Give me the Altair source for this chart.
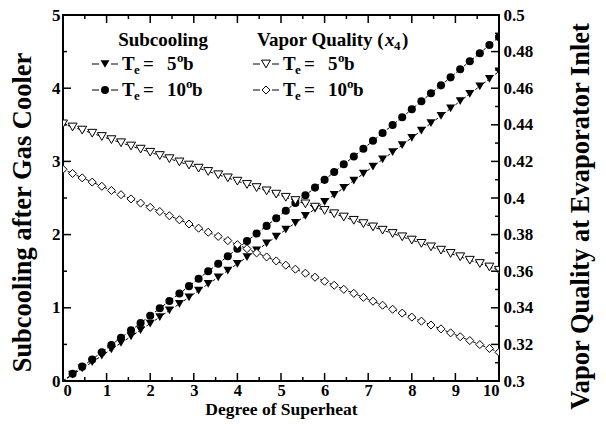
import altair as alt
import pandas as pd

# ---- data ----
superheat = [0.00, 0.22, 0.44, 0.67, 0.89, 1.11, 1.33, 1.56, 1.78, 2.00,
             2.22, 2.44, 2.67, 2.89, 3.11, 3.33, 3.56, 3.78, 4.00, 4.22,
             4.44, 4.67, 4.89, 5.11, 5.33, 5.56, 5.78, 6.00, 6.22, 6.44,
             6.67, 6.89, 7.11, 7.33, 7.56, 7.78, 8.00, 8.22, 8.44, 8.67,
             8.89, 9.11, 9.33, 9.56, 9.78, 10.00]

sub_te5 = [0.000, 0.086, 0.172, 0.258, 0.345, 0.432, 0.520, 0.608, 0.696, 0.785,
           0.874, 0.964, 1.054, 1.144, 1.235, 1.326, 1.417, 1.509, 1.601, 1.693,
           1.786, 1.879, 1.973, 2.067, 2.161, 2.256, 2.351, 2.447, 2.543, 2.639,
           2.736, 2.833, 2.930, 3.028, 3.126, 3.224, 3.323, 3.422, 3.522, 3.622,
           3.723, 3.823, 3.924, 4.026, 4.128, 4.230]

sub_te10 = [0.000, 0.098, 0.196, 0.295, 0.394, 0.493, 0.592, 0.692, 0.792, 0.892,
            0.993, 1.093, 1.195, 1.296, 1.398, 1.500, 1.602, 1.705, 1.808, 1.911,
            2.015, 2.119, 2.223, 2.327, 2.432, 2.537, 2.642, 2.748, 2.854, 2.960,
            3.067, 3.173, 3.281, 3.388, 3.496, 3.604, 3.712, 3.821, 3.930, 4.039,
            4.148, 4.258, 4.368, 4.478, 4.589, 4.700]

vq_te5 = [0.4405, 0.4388, 0.4371, 0.4354, 0.4336, 0.4319, 0.4302, 0.4284, 0.4267, 0.4250,
          0.4232, 0.4215, 0.4197, 0.4180, 0.4163, 0.4145, 0.4127, 0.4110, 0.4092, 0.4074,
          0.4057, 0.4039, 0.4021, 0.4004, 0.3986, 0.3968, 0.3950, 0.3932, 0.3914, 0.3896,
          0.3878, 0.3860, 0.3842, 0.3824, 0.3806, 0.3788, 0.3770, 0.3752, 0.3733, 0.3715,
          0.3697, 0.3679, 0.3660, 0.3642, 0.3623, 0.3605]

vq_te10 = [0.4157, 0.4134, 0.4110, 0.4087, 0.4064, 0.4041, 0.4018, 0.3995, 0.3972, 0.3949,
           0.3926, 0.3903, 0.3881, 0.3858, 0.3835, 0.3813, 0.3790, 0.3767, 0.3745, 0.3723,
           0.3700, 0.3678, 0.3656, 0.3633, 0.3611, 0.3589, 0.3567, 0.3545, 0.3523, 0.3501,
           0.3479, 0.3457, 0.3436, 0.3414, 0.3392, 0.3371, 0.3349, 0.3327, 0.3306, 0.3285,
           0.3263, 0.3242, 0.3221, 0.3199, 0.3178, 0.3157]

x_ticks_major = [0, 1, 2, 3, 4, 5, 6, 7, 8, 9, 10]
x_ticks_minor = [0.5, 1.5, 2.5, 3.5, 4.5, 5.5, 6.5, 7.5, 8.5, 9.5]
left_ticks_major = [0, 1, 2, 3, 4, 5]
left_ticks_minor = [0.5, 1.5, 2.5, 3.5, 4.5]
right_ticks_major = [0.30, 0.32, 0.34, 0.36, 0.38, 0.40, 0.42, 0.44, 0.46, 0.48, 0.50]
right_ticks_minor = [0.31, 0.33, 0.35, 0.37, 0.39, 0.41, 0.43, 0.45, 0.47, 0.49]

W, H = 436, 366
FONT = "Liberation Serif"

sub_df = pd.DataFrame({
    "x": superheat * 2,
    "y": sub_te5 + sub_te10,
    "series": ["s5"] * len(superheat) + ["s10"] * len(superheat),
})
vq_df = pd.DataFrame({
    "x": superheat * 2,
    "y": vq_te5 + vq_te10,
    "series": ["v5"] * len(superheat) + ["v10"] * len(superheat),
})

xscale = alt.Scale(domain=[0, 10], nice=False, zero=False)
lscale = alt.Scale(domain=[0, 5], nice=False, zero=False)
rscale = alt.Scale(domain=[0.3, 0.5], nice=False, zero=False)

lab = dict(labelFont=FONT, labelFontWeight="bold", labelColor="black",
           titleFont=FONT, titleFontWeight="bold", titleColor="black",
           ticks=False, domain=False, grid=False, labelOverlap=False)

x_axis = alt.Axis(values=x_ticks_major, title="Degree of Superheat", titleFontSize=17.5,
                  labelFontSize=16.5, labelPadding=1, titlePadding=2, **lab)
l_axis = alt.Axis(values=left_ticks_major, title="Subcooling after Gas Cooler", titleFontSize=26.5,
                  labelFontSize=17, labelPadding=3, titlePadding=15, titleY=197, **lab)
r_axis = alt.Axis(values=right_ticks_major, format=".2~f", orient="right",
                  title="Vapor Quality at Evaporator Inlet", titleFontSize=26.5, titleAngle=270,
                  titleBaseline="top", titleY=201,
                  labelFontSize=17, labelPadding=4, titlePadding=35, **lab)

SZ_TRI, SZ_CIR, SZ_DIA = 80, 65, 65

# ---- left (subcooling) group ----
sub_line = alt.Chart(sub_df).mark_line(color="black", strokeWidth=1, strokeDash=[3, 2], clip=True).encode(
    x=alt.X("x:Q", scale=xscale, axis=x_axis),
    y=alt.Y("y:Q", scale=lscale, axis=l_axis),
    detail="series:N",
)
sub_pts = alt.Chart(sub_df).transform_filter(alt.datum.x > 0).mark_point(
    filled=True, color="black", opacity=1, clip=True).encode(
    x=alt.X("x:Q", scale=xscale, axis=x_axis),
    y=alt.Y("y:Q", scale=lscale, axis=l_axis),
    shape=alt.Shape("series:N", scale=alt.Scale(domain=["s5", "s10"], range=["triangle-down", "circle"]),
                    legend=None),
    size=alt.Size("series:N", scale=alt.Scale(domain=["s5", "s10"], range=[SZ_TRI, SZ_CIR]), legend=None),
)


def rule_x(vals, y0, y1):
    return alt.Chart(pd.DataFrame({"x": vals})).mark_rule(color="black", strokeWidth=1.5).encode(
        x=alt.X("x:Q", scale=xscale, axis=x_axis), y=alt.value(y0), y2=alt.value(y1))


def rule_y(vals, scale, axis, x0, x1):
    return alt.Chart(pd.DataFrame({"y": vals})).mark_rule(color="black", strokeWidth=1.5).encode(
        y=alt.Y("y:Q", scale=scale, axis=axis), x=alt.value(x0), x2=alt.value(x1))


ticks_left = [
    rule_x(x_ticks_major, H, H - 8), rule_x(x_ticks_minor, H, H - 4),
    rule_x(x_ticks_major, 0, 8), rule_x(x_ticks_minor, 0, 4),
    rule_y(left_ticks_major, lscale, l_axis, 0, 8), rule_y(left_ticks_minor, lscale, l_axis, 0, 4),
]

# ---- legend built from text pieces ----
dummy = pd.DataFrame({"d": [0]})


def txt(s, x, y, size=19, style="normal", align="left"):
    return alt.Chart(dummy).mark_text(text=s, font=FONT, fontWeight="bold", fontSize=size,
                                      fontStyle=style, align=align, baseline="middle",
                                      color="black").encode(x=alt.value(x), y=alt.value(y))


def sym(shape, filled, x, y, size):
    if filled:
        m = alt.Chart(dummy).mark_point(shape=shape, filled=True, color="black", opacity=1, size=size)
    else:
        m = alt.Chart(dummy).mark_point(shape=shape, filled=False, fill="white", fillOpacity=1,
                                        stroke="black", strokeWidth=1, opacity=1, size=size)
    return m.encode(x=alt.value(x), y=alt.value(y))


def dash(x0, x1, y):
    return alt.Chart(dummy).mark_rule(color="black", strokeWidth=1).encode(
        x=alt.value(x0), x2=alt.value(x1), y=alt.value(y))


legend = []
# (row y, number, super-o x, b x)
rows = [(49, "5", 114, 120), (75, "10", 123, 129)]
cols = [(0, True, {"5": ("triangle-down", SZ_TRI), "10": ("circle", SZ_CIR)}),
        (161, False, {"5": ("triangle-down", SZ_TRI), "10": ("diamond", SZ_DIA)})]
for dx, filled, shapes in cols:
    for (ry, num, ox, bx) in rows:
        shp, sz = shapes[num]
        legend += [
            dash(29 + dx, 36 + dx, ry), dash(48 + dx, 55 + dx, ry),
            sym(shp, filled, 42 + dx, ry, sz),
            txt("T", 59 + dx, ry),
            txt("e", 71 + dx, ry + 6, size=13),
            txt("=", 80 + dx, ry),
            txt(num, 104 + dx, ry),
            txt("o", ox + dx, ry - 6, size=13),
            txt("b", bx + dx, ry),
        ]
legend += [
    txt("Subcooling", 100, 25, align="center"),
    txt("Vapor Quality (", 194, 25),
    txt("x", 322, 25, style="italic"),
    txt("4", 331, 31, size=13),
    txt(")", 339, 25),
]

left_group = alt.layer(sub_line, sub_pts, *ticks_left, *legend)

# ---- right (vapor quality) group ----
vq_line = alt.Chart(vq_df).mark_line(color="black", strokeWidth=1, strokeDash=[3, 2], clip=True).encode(
    x=alt.X("x:Q", scale=xscale, axis=x_axis),
    y=alt.Y("y:Q", scale=rscale, axis=r_axis),
    detail="series:N",
)
vq_pts = alt.Chart(vq_df).mark_point(filled=False, fill="white", fillOpacity=1, stroke="black",
                                     strokeWidth=1, opacity=1, clip=True).encode(
    x=alt.X("x:Q", scale=xscale, axis=x_axis),
    y=alt.Y("y:Q", scale=rscale, axis=r_axis),
    shape=alt.Shape("series:N", scale=alt.Scale(domain=["v5", "v10"], range=["triangle-down", "diamond"]),
                    legend=None),
    size=alt.Size("series:N", scale=alt.Scale(domain=["v5", "v10"], range=[SZ_TRI, SZ_DIA]), legend=None),
)
ticks_right = [rule_y(right_ticks_major, rscale, r_axis, W, W - 8),
               rule_y(right_ticks_minor, rscale, r_axis, W, W - 4)]

right_group = alt.layer(vq_line, vq_pts, *ticks_right)

chart = alt.layer(left_group, right_group).resolve_scale(
    y="independent", size="independent", shape="independent"
).properties(
    width=W, height=H,
    padding={"left": 63, "top": 15, "right": 107, "bottom": 52},
    autosize=alt.AutoSizeParams(type="none"),
    background="white",
).configure_view(stroke="black", strokeWidth=2)

chart.save("out.html", embed_options={"renderer": "svg", "actions": False})
